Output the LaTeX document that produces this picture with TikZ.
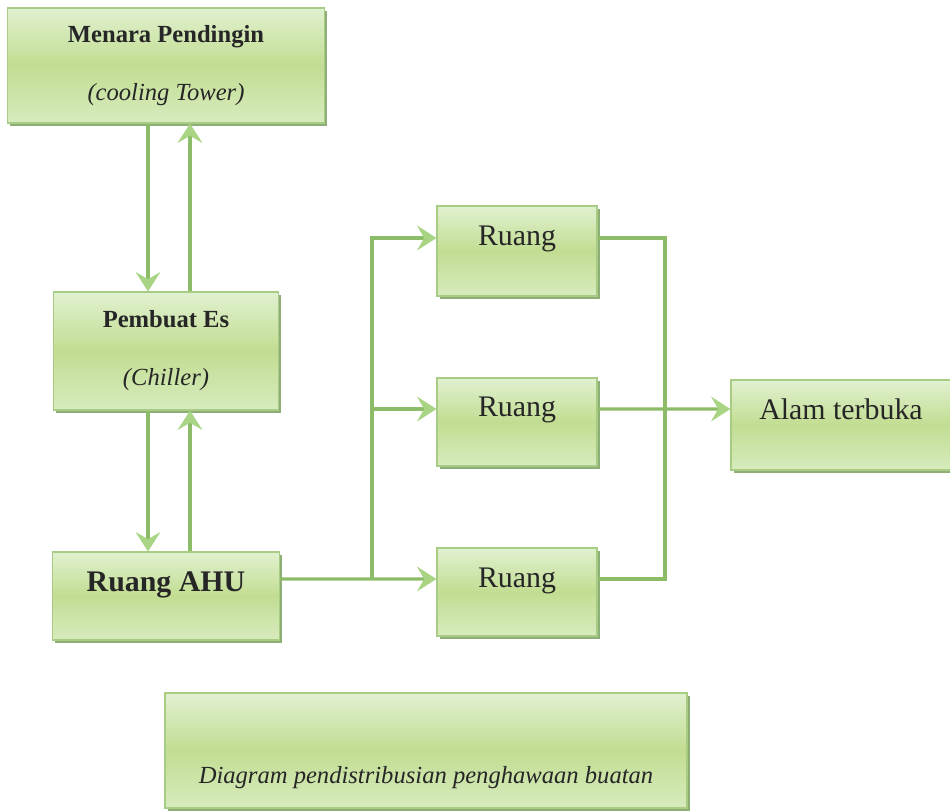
\documentclass[tikz,border=0pt]{standalone}
\usepackage{fontspec}
\setmainfont{Liberation Serif}
\usetikzlibrary{arrows.meta,shadows}

\definecolor{boxtop}{RGB}{224,241,208}
\definecolor{boxmid}{RGB}{194,221,146}
\definecolor{boxline}{RGB}{168,204,132}
\definecolor{boxshade}{RGB}{122,160,96}
\definecolor{flowgreen}{RGB}{140,188,104}
\definecolor{tipgreen}{RGB}{168,212,132}

\tikzset{
  block/.style={rectangle,draw=boxline,line width=.6pt,
    top color=boxtop,bottom color=boxtop!70!boxmid,middle color=boxmid,
    drop shadow={shadow xshift=1.6pt,shadow yshift=-1.8pt,fill=boxshade,opacity=.85},
    text=black!85,inner sep=2pt},
  bigtext/.style={font=\fontsize{17}{20}\selectfont,text height=.5cm,text depth=.7cm},
  smalltext/.style={font=\fontsize{14}{17}\selectfont,align=center},
  flow/.style={draw=flowgreen,line width=1.8pt,
    -{Stealth[length=11pt,width=14pt,inset=4pt,color=tipgreen]}},
  plain/.style={draw=flowgreen,line width=1.8pt}
}

\begin{document}
\begin{tikzpicture}
  \useasboundingbox (0,0) rectangle (19,16.22);

  \node [block,smalltext,minimum width=6.34cm,minimum height=2.3cm] (mp) at (3.32,14.91)
    {\textbf{Menara Pendingin}\\[16pt]\textit{(cooling Tower)}};
  \node [block,smalltext,minimum width=4.5cm,minimum height=2.36cm] (pe) at (3.32,9.2)
    {\textbf{Pembuat Es}\\[16pt]\textit{(Chiller)}};
  \node [block,bigtext,minimum width=4.54cm,minimum height=1.76cm] (ahu) at (3.32,4.3)
    {\textbf{Ruang AHU}};

  \node [block,bigtext,minimum width=3.2cm,minimum height=1.8cm] (r1) at (10.34,11.2) {Ruang};
  \node [block,bigtext,minimum width=3.2cm,minimum height=1.76cm] (r2) at (10.34,7.78) {Ruang};
  \node [block,bigtext,minimum width=3.2cm,minimum height=1.76cm] (r3) at (10.34,4.38) {Ruang};
  \node [block,bigtext,minimum width=4.4cm,minimum height=1.8cm] (alam) at (16.82,7.72) {Alam terbuka};

  \node [block,font=\fontsize{14}{17}\selectfont\itshape,text height=1.5cm,text depth=.2cm,
    minimum width=10.44cm,minimum height=2.3cm] (cap) at (8.52,1.21)
    {Diagram pendistribusian penghawaan buatan};

  \coordinate (split) at (7.44,4.64);
  \coordinate (merge) at (13.3,8.04);

  \foreach \a/\b in {mp/pe,pe/ahu} {
    \draw [flow] ([xshift=-3.6mm]\a.south) -- ([xshift=-3.6mm]\b.north);
    \draw [flow] ([xshift=4.8mm]\b.north) -- ([xshift=4.8mm]\a.south);
  }

  \draw [flow] (ahu.east |- split) -- ([yshift=2.6mm]r3.west);
  \foreach \r in {r1,r2}
    \draw [flow] (split) |- ([yshift=2.6mm]\r.west);

  \draw [plain] ([yshift=2.6mm]r1.east) -| (merge) |- ([yshift=2.6mm]r3.east);
  \draw [flow] ([yshift=2.6mm]r2.east) -- (alam.west |- merge);
\end{tikzpicture}
\end{document}
